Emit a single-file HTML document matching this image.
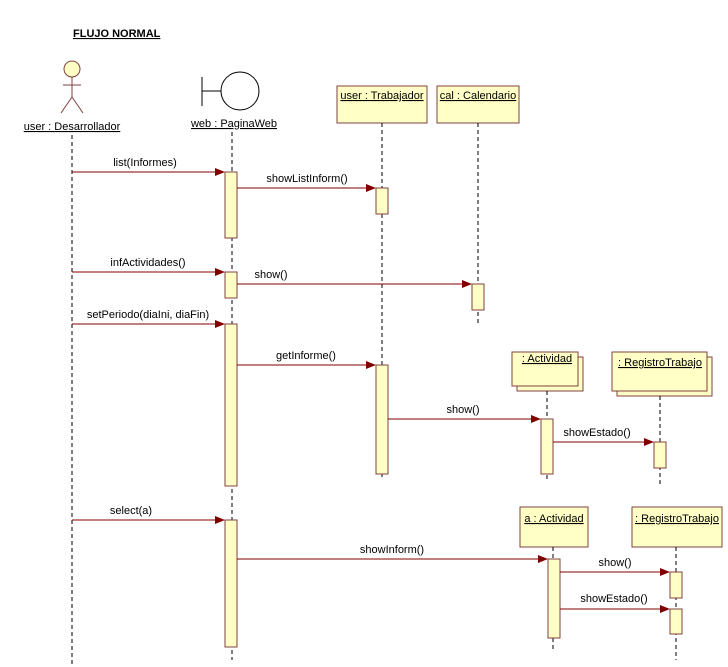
<!DOCTYPE html>
<html><head><meta charset="utf-8"><style>
html,body{margin:0;padding:0;background:#fff;}
svg{display:block;}
text{font-family:"Liberation Sans",sans-serif;font-size:11px;fill:#000;}
.u{text-decoration:underline;}
.ll{stroke:#000;stroke-width:1;stroke-dasharray:4,3;}
.box{fill:#ffffc6;stroke:#804040;stroke-width:1;}
.act{fill:#ffffc6;stroke:#804040;stroke-width:1;}
.m{stroke:#800000;stroke-width:1;}
.ah{fill:#800000;}
</style></head><body>
<svg width="728" height="667" viewBox="0 0 728 667" xmlns="http://www.w3.org/2000/svg">
<text x="73" y="37" class="u" style="font-weight:bold;font-size:11px">FLUJO NORMAL</text>
<!-- actor -->
<circle cx="72" cy="69" r="8" fill="#ffffc6" stroke="#804040"/>
<line x1="72" y1="77" x2="72" y2="97" stroke="#804040"/>
<line x1="63" y1="85" x2="81" y2="85" stroke="#804040"/>
<line x1="72" y1="97" x2="61" y2="113" stroke="#804040"/>
<line x1="72" y1="97" x2="83" y2="113" stroke="#804040"/>
<text x="72" y="130" text-anchor="middle" class="u">user : Desarrollador</text>
<line class="ll" x1="72" y1="135" x2="72" y2="667"/>
<!-- boundary -->
<line x1="202" y1="77" x2="202" y2="106" stroke="#000"/>
<line x1="202" y1="91" x2="221" y2="91" stroke="#000"/>
<circle cx="240" cy="91" r="19" fill="#fff" stroke="#000"/>
<text x="234" y="127" text-anchor="middle" class="u">web : PaginaWeb</text>
<line class="ll" x1="232" y1="132" x2="232" y2="660"/>
<!-- Trabajador -->
<rect class="box" x="337" y="86" width="90" height="37"/>
<text x="382" y="99" text-anchor="middle" class="u">user : Trabajador</text>
<line class="ll" x1="382" y1="123" x2="382" y2="478"/>
<!-- Calendario -->
<rect class="box" x="437" y="86" width="82" height="37"/>
<text x="478" y="99" text-anchor="middle" class="u">cal : Calendario</text>
<line class="ll" x1="478" y1="123" x2="478" y2="324"/>
<!-- Actividad stacked -->
<rect class="box" x="517" y="357" width="66" height="34"/>
<rect class="box" x="512" y="352" width="66" height="34"/>
<text x="547" y="362" text-anchor="middle" class="u">: Actividad</text>
<line class="ll" x1="547" y1="391" x2="547" y2="482"/>
<!-- Registro stacked -->
<rect class="box" x="617" y="357" width="95" height="39"/>
<rect class="box" x="612" y="352" width="95" height="39"/>
<text x="660" y="366" text-anchor="middle" class="u">: RegistroTrabajo</text>
<line class="ll" x1="660" y1="396" x2="660" y2="486"/>
<!-- a:Actividad -->
<rect class="box" x="520" y="507" width="68" height="40"/>
<text x="554" y="522" text-anchor="middle" class="u">a : Actividad</text>
<line class="ll" x1="553" y1="547" x2="553" y2="650"/>
<!-- Registro 2 -->
<rect class="box" x="632" y="507" width="90" height="40"/>
<text x="677" y="522" text-anchor="middle" class="u">: RegistroTrabajo</text>
<line class="ll" x1="676" y1="547" x2="676" y2="660"/>
<!-- activations -->
<rect class="act" x="225" y="172" width="12" height="66"/>
<rect class="act" x="225" y="272" width="12" height="26"/>
<rect class="act" x="225" y="324" width="12" height="162"/>
<rect class="act" x="225" y="520" width="12" height="127"/>
<rect class="act" x="376" y="188" width="12" height="26"/>
<rect class="act" x="376" y="365" width="12" height="109"/>
<rect class="act" x="472" y="284" width="12" height="26"/>
<rect class="act" x="541" y="419" width="12" height="55"/>
<rect class="act" x="654" y="442" width="12" height="26"/>
<rect class="act" x="548" y="559" width="12" height="79"/>
<rect class="act" x="670" y="572" width="12" height="26"/>
<rect class="act" x="670" y="609" width="12" height="25"/>
<!-- messages -->
<g>
<line class="m" x1="72" y1="172" x2="216" y2="172"/><polygon class="ah" points="225,172 215,168 215,176"/>
<text x="145" y="166" text-anchor="middle">list(Informes)</text>
<line class="m" x1="237" y1="188" x2="367" y2="188"/><polygon class="ah" points="376,188 366,184 366,192"/>
<text x="307" y="182" text-anchor="middle">showListInform()</text>
<line class="m" x1="72" y1="272" x2="216" y2="272"/><polygon class="ah" points="225,272 215,268 215,276"/>
<text x="148" y="266" text-anchor="middle">infActividades()</text>
<line class="m" x1="237" y1="284" x2="463" y2="284"/><polygon class="ah" points="472,284 462,280 462,288"/>
<text x="271" y="278" text-anchor="middle">show()</text>
<line class="m" x1="72" y1="324" x2="216" y2="324"/><polygon class="ah" points="225,324 215,320 215,328"/>
<text x="148" y="318" text-anchor="middle">setPeriodo(diaIni, diaFin)</text>
<line class="m" x1="237" y1="365" x2="367" y2="365"/><polygon class="ah" points="376,365 366,361 366,369"/>
<text x="306" y="359" text-anchor="middle">getInforme()</text>
<line class="m" x1="388" y1="419" x2="532" y2="419"/><polygon class="ah" points="541,419 531,415 531,423"/>
<text x="463" y="413" text-anchor="middle">show()</text>
<line class="m" x1="553" y1="442" x2="645" y2="442"/><polygon class="ah" points="654,442 644,438 644,446"/>
<text x="597" y="436" text-anchor="middle">showEstado()</text>
<line class="m" x1="72" y1="520" x2="216" y2="520"/><polygon class="ah" points="225,520 215,516 215,524"/>
<text x="131" y="514" text-anchor="middle">select(a)</text>
<line class="m" x1="237" y1="559" x2="539" y2="559"/><polygon class="ah" points="548,559 538,555 538,563"/>
<text x="392" y="553" text-anchor="middle">showInform()</text>
<line class="m" x1="560" y1="572" x2="661" y2="572"/><polygon class="ah" points="670,572 660,568 660,576"/>
<text x="615" y="566" text-anchor="middle">show()</text>
<line class="m" x1="560" y1="609" x2="661" y2="609"/><polygon class="ah" points="670,609 660,605 660,613"/>
<text x="614" y="602" text-anchor="middle">showEstado()</text>
</g>
</svg>
</body></html>
